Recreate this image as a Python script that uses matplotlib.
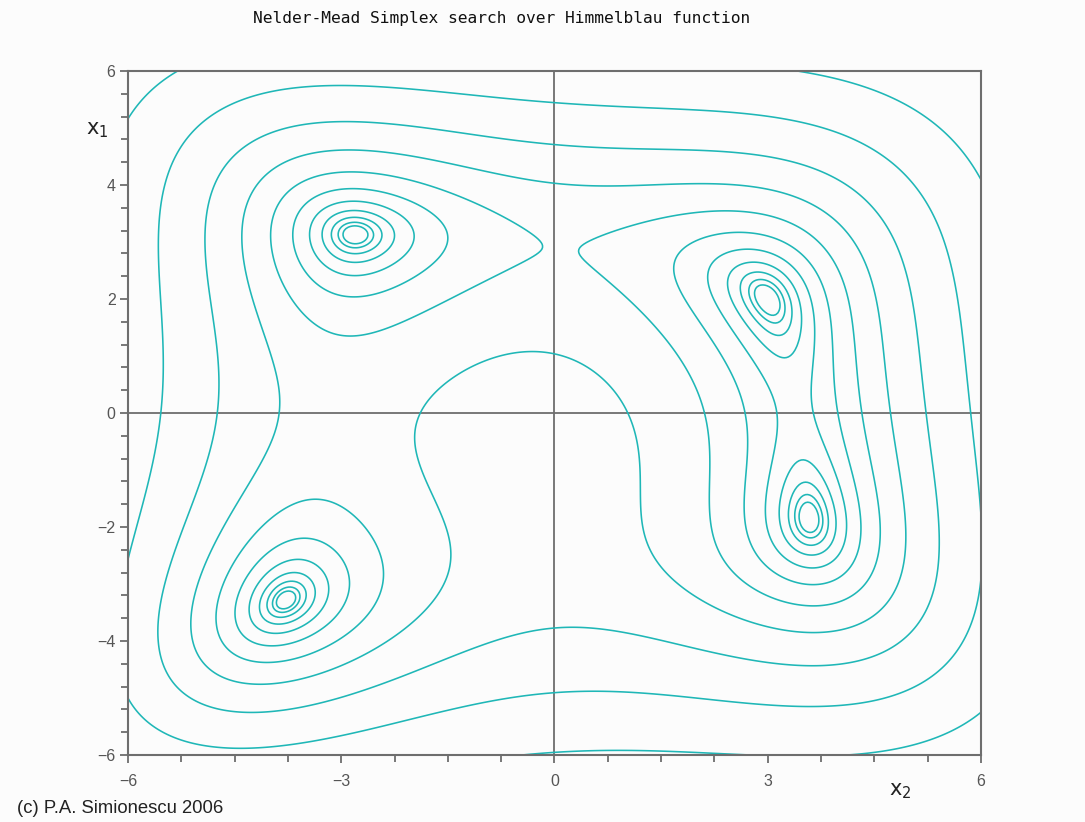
"""Contour map of the Himmelblau function (Nelder-Mead demo figure)."""

import numpy as np
import matplotlib
matplotlib.use("Agg")
import matplotlib.pyplot as plt
from matplotlib.ticker import MultipleLocator

# contour levels (roughly exp(0), exp(0.7), ... exp(7))
levels = [1.0, 2.01, 4.06, 8.17, 16.44, 33.12, 66.69, 134.29, 270.43, 544.57, 1096.63]

x_ticks = [-6, -3, 0, 3, 6]
y_ticks = [-6, -4, -2, 0, 2, 4, 6]
x_lim = (-6, 6)
y_lim = (-6, 6)

# Himmelblau function on a grid over the plotted square
x = np.linspace(-6, 6, 400)
y = np.linspace(-6, 6, 400)
X, Y = np.meshgrid(x, y)
Z = (X**2 + Y - 11)**2 + (X + Y**2 - 7)**2

teal = "#1fb7b7"
grey = "#6e6e6e"

fig = plt.figure(figsize=(10.85, 8.22), dpi=100)
fig.patch.set_facecolor("#fcfcfc")
ax = fig.add_axes([0.118, 0.0815, 0.786, 0.832])
ax.set_facecolor("#fcfcfc")

ax.contour(X, Y, Z, levels=levels, colors=teal, linewidths=1.15)

# axes through the origin
ax.axhline(0, color=grey, lw=1.3, zorder=0)
ax.axvline(0, color=grey, lw=1.3, zorder=0)

ax.set_xlim(*x_lim)
ax.set_ylim(*y_lim)
ax.set_xticks(x_ticks)
ax.set_yticks(y_ticks)
ax.set_xticklabels(["\u22126", "\u22123", "0", "3", "6"])
ax.set_yticklabels(["\u22126", "\u22124", "\u22122", "0", "2", "4", "6"])
ax.xaxis.set_minor_locator(MultipleLocator(0.75))
ax.yaxis.set_minor_locator(MultipleLocator(0.4))
ax.tick_params(which="both", direction="out", color=grey, width=1.3,
               labelcolor="#555555", labelsize=11.5, pad=3)
ax.tick_params(which="major", length=6)
ax.tick_params(which="minor", length=5)
ax.tick_params(axis="x", pad=8)
for lab in ax.get_xticklabels() + ax.get_yticklabels():
    lab.set_family("Liberation Sans")
for side in ax.spines.values():
    side.set_color(grey)
    side.set_linewidth(1.5)

fig.text(0.462, 0.978, "Nelder-Mead Simplex search over Himmelblau function",
         ha="center", va="center", family="DejaVu Sans Mono", fontsize=11.7,
         color="#111111")
fig.text(0.079, 0.842, "x$_1$", ha="left", va="center", fontsize=15,
         color="#222222")
fig.text(0.819, 0.038, "x$_2$", ha="left", va="center", fontsize=15,
         color="#222222")
fig.text(0.016, 0.017, "(c) P.A. Simionescu 2006", ha="left", va="center",
         family="Liberation Sans", fontsize=13.3, color="#222222")

fig.savefig("out.png", dpi=100, facecolor=fig.get_facecolor())
